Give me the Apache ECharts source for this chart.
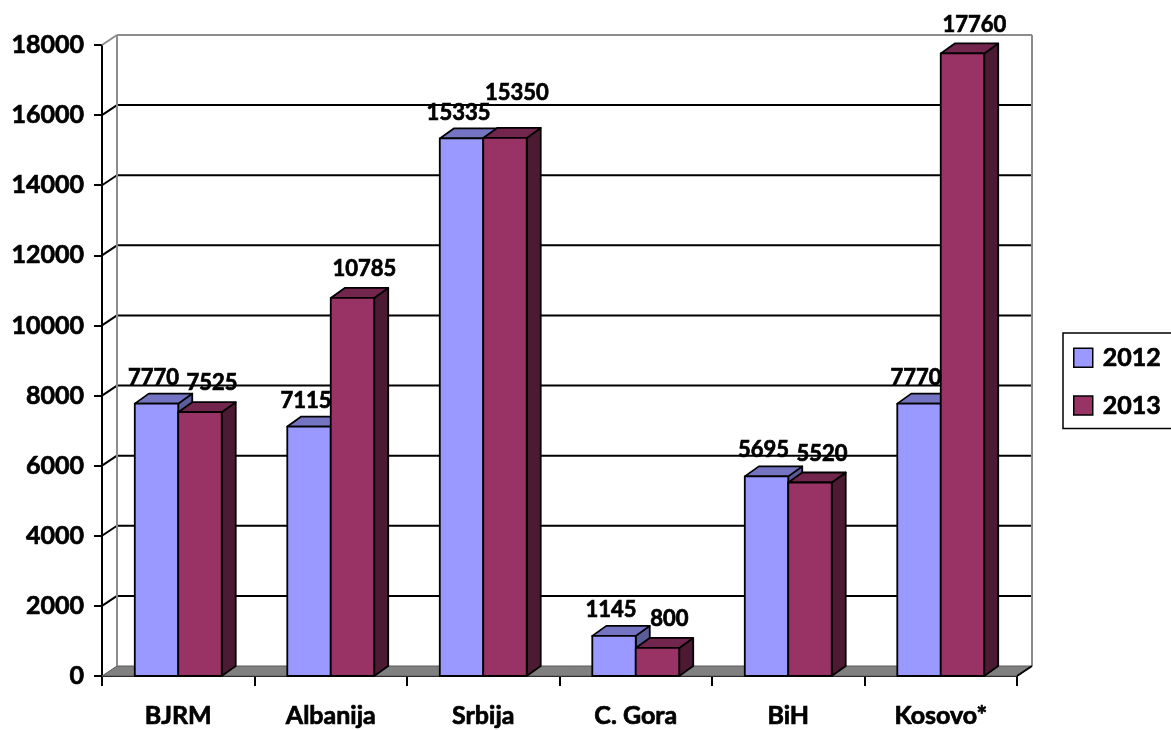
<!DOCTYPE html>
<html>
<head>
<meta charset="utf-8">
<script src="https://cdn.jsdelivr.net/npm/echarts@6/dist/echarts.min.js"></script>
<style>
  html, body { margin: 0; padding: 0; background: #fff; }
  #chart { width: 1171px; height: 730px; }
</style>
</head>
<body>
<div id="chart"></div>
<script>
// ---- data ----
const categories = ['BJRM', 'Albanija', 'Srbija', 'C. Gora', 'BiH', 'Kosovo*'];
const seriesNames = ['2012', '2013'];
const values2012 = [7770, 7115, 15335, 1145, 5695, 7770];
const values2013 = [7525, 10785, 15350, 800, 5520, 17760];
const yTicks = [0, 2000, 4000, 6000, 8000, 10000, 12000, 14000, 16000, 18000];

// ---- style ----
const FONT = 'Lato, "Open Sans", "Liberation Sans", sans-serif';
const WEIGHT = 'bold';
const THICK = 0.7; // text outline to mimic heavier Calibri bold
const WALL_DX = 15, WALL_DY = -10;   // depth of back wall
const BAR_DX = 14, BAR_DY = -10;     // depth of bars
const BAR_FRAC = 0.285;
const palettes = [
  { front: '#9999FF', top: '#7474C2', side: '#5C5C99' },
  { front: '#993366', top: '#73264D', side: '#4D1A33' }
];

const chart = echarts.init(document.getElementById('chart'), null, { renderer: 'canvas' });

function decorRender(params, api) {
  const cs = params.coordSys;
  const gx = cs.x, gy = cs.y, gw = cs.width, gh = cs.height;
  const children = [];
  children.push({
    type: 'polygon',
    shape: { points: [[gx, gy + gh], [gx + gw, gy + gh], [gx + gw + WALL_DX, gy + gh + WALL_DY], [gx + WALL_DX, gy + gh + WALL_DY]] },
    style: { fill: '#808080', stroke: '#5a5a5a', lineWidth: 1 }
  });
  yTicks.forEach(function (v, i) {
    const y = api.coord([0, v])[1];
    const last = i === yTicks.length - 1;
    if (v === 0) {
      return;
    }
    const col = last ? '#8c8c8c' : '#000';
    children.push({
      type: 'line',
      shape: { x1: gx + WALL_DX, y1: y + WALL_DY, x2: gx + gw + WALL_DX, y2: y + WALL_DY },
      style: { stroke: col, lineWidth: 2 }
    });
    children.push({
      type: 'line',
      shape: { x1: gx, y1: y, x2: gx + WALL_DX, y2: y + WALL_DY },
      style: { stroke: col, lineWidth: 2 }
    });
  });
  children.push({
    type: 'line',
    shape: { x1: gx + WALL_DX, y1: gy + WALL_DY, x2: gx + WALL_DX, y2: gy + gh + WALL_DY },
    style: { stroke: '#8c8c8c', lineWidth: 2 }
  });
  children.push({
    type: 'line',
    shape: { x1: gx + gw + WALL_DX, y1: gy + WALL_DY, x2: gx + gw + WALL_DX, y2: gy + gh + WALL_DY },
    style: { stroke: '#8c8c8c', lineWidth: 2 }
  });
  children.push({
    type: 'line',
    shape: { x1: gx + gw, y1: gy + gh, x2: gx + gw + WALL_DX, y2: gy + gh + WALL_DY },
    style: { stroke: '#000', lineWidth: 2 }
  });
  return { type: 'group', children: children };
}

function makeBarRender(sIdx) {
  const pal = palettes[sIdx];
  return function (params, api) {
    const idx = api.value(0), val = api.value(1);
    const top = api.coord([idx, val]);
    const base = api.coord([idx, 0]);
    const catW = api.size([1, 0])[0];
    const bw = catW * BAR_FRAC;
    const x0 = sIdx === 0 ? top[0] - bw : top[0];
    const x1 = x0 + bw;
    const yT = top[1], yB = base[1];
    const st = { stroke: '#000', lineWidth: 1.8, lineJoin: 'round' };
    return {
      type: 'group',
      children: [
        { type: 'polygon', shape: { points: [[x1, yB], [x1 + BAR_DX, yB + BAR_DY], [x1 + BAR_DX, yT + BAR_DY], [x1, yT]] },
          style: Object.assign({ fill: pal.side }, st) },
        { type: 'polygon', shape: { points: [[x0, yT], [x1, yT], [x1 + BAR_DX, yT + BAR_DY], [x0 + BAR_DX, yT + BAR_DY]] },
          style: Object.assign({ fill: pal.top }, st) },
        { type: 'rect', shape: { x: x0, y: yT, width: bw, height: yB - yT },
          style: Object.assign({ fill: pal.front }, st) }
      ]
    };
  };
}

function labelRender(params, api) {
  const idx = api.value(0);
  const v1 = api.value(1), v2 = api.value(2);
  const catW = api.size([1, 0])[0];
  const bw = catW * BAR_FRAC;
  const p1 = api.coord([idx, v1]);
  const p2 = api.coord([idx, v2]);
  const c1x = p1[0] - bw / 2 - 3, c1y = p1[1] - 26;
  const c2x = p2[0] + bw / 2 + 12;
  let c2y = p2[1] - 29;
  const s1 = String(v1), s2 = String(v2);
  const w1 = s1.length * 12.6, w2 = s2.length * 12.6;
  if ((w1 + w2) / 2 > (c2x - c1x) && Math.abs(c2y - c1y) < 22) {
    c2y = c1y - 20;
  }
  const ts = { align: 'center', verticalAlign: 'middle', fontFamily: FONT, fontWeight: WEIGHT, fontSize: 22,
    fill: '#000', stroke: '#000', lineWidth: THICK };
  return {
    type: 'group',
    children: [
      { type: 'text', style: Object.assign({ text: s1, x: c1x, y: c1y }, ts) },
      { type: 'text', style: Object.assign({ text: s2, x: c2x, y: c2y }, ts) }
    ]
  };
}

const axisText = { fontFamily: FONT, fontWeight: WEIGHT, fontSize: 25, color: '#000',
  textBorderColor: '#000', textBorderWidth: THICK };

const option = {
  backgroundColor: '#fff',
  animation: false,
  textStyle: { fontFamily: FONT },
  grid: { left: 102, top: 45, width: 915, height: 631, containLabel: false },
  legend: {
    orient: 'vertical',
    left: 1063,
    top: 333,
    data: seriesNames,
    icon: 'rect',
    itemWidth: 19,
    itemHeight: 19,
    itemGap: 22,
    padding: [12, 40, 10, 10],
    borderColor: '#000',
    borderWidth: 1.5,
    itemStyle: { borderColor: '#000', borderWidth: 1.5 },
    textStyle: Object.assign({ padding: [0, 0, 0, 5] }, axisText)
  },
  xAxis: {
    type: 'category',
    data: categories,
    boundaryGap: true,
    axisLine: { show: true, lineStyle: { color: '#000', width: 2 } },
    axisTick: { show: true, length: 10, lineStyle: { color: '#000', width: 2 } },
    axisLabel: Object.assign({ margin: 27 }, axisText),
    splitLine: { show: false }
  },
  yAxis: {
    type: 'value',
    min: 0,
    max: 18000,
    interval: 2000,
    axisLine: { show: true, lineStyle: { color: '#000', width: 2 } },
    axisTick: { show: true, length: 8, lineStyle: { color: '#000', width: 2 } },
    axisLabel: Object.assign({ margin: 18, formatter: function (v) { return String(v); } }, axisText),
    splitLine: { show: false }
  },
  series: [
    {
      type: 'custom',
      name: 'decor',
      renderItem: decorRender,
      data: [[0, 0]],
      encode: { x: 0, y: 1 },
      silent: true,
      z: 1
    },
    {
      type: 'custom',
      name: seriesNames[0],
      itemStyle: { color: palettes[0].front },
      renderItem: makeBarRender(0),
      data: values2012.map(function (v, i) { return [i, v]; }),
      encode: { x: 0, y: 1 },
      z: 2
    },
    {
      type: 'custom',
      name: seriesNames[1],
      itemStyle: { color: palettes[1].front },
      renderItem: makeBarRender(1),
      data: values2013.map(function (v, i) { return [i, v]; }),
      encode: { x: 0, y: 1 },
      z: 3
    },
    {
      type: 'custom',
      name: 'labels',
      renderItem: labelRender,
      data: values2012.map(function (v, i) { return [i, v, values2013[i]]; }),
      encode: { x: 0, y: [1, 2] },
      silent: true,
      z: 10
    }
  ]
};
chart.setOption(option);
</script>
</body>
</html>
